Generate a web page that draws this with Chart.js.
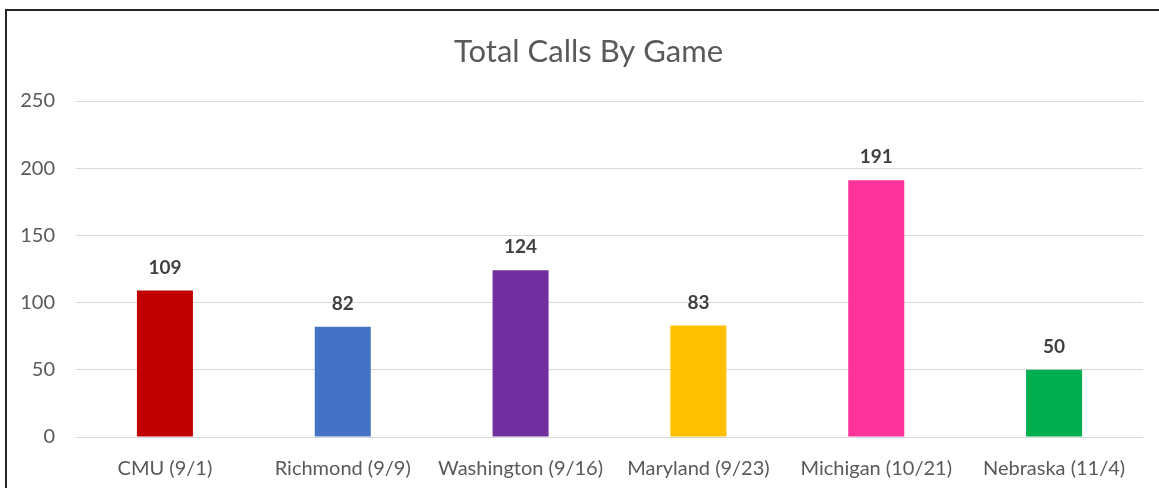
<!DOCTYPE html>
<html>
<head>
<meta charset="utf-8">
<script src="https://cdn.jsdelivr.net/npm/chart.js@4/dist/chart.umd.min.js"></script>
<style>
  html, body { margin: 0; padding: 0; background: #fff; overflow: hidden; }
  #wrap { position: relative; width: 1159px; height: 488px; overflow: hidden; }
  #frame { position: absolute; left: 5px; top: 9px; width: 1300px; height: 600px; border: 2px solid #262626; box-sizing: border-box; }
  #chartBox { position: absolute; left: 0; top: 0; width: 1159px; height: 501px; }
</style>
</head>
<body>
<div id="wrap">
  <div id="frame"></div>
  <div id="chartBox"><canvas id="chartCalls"></canvas></div>
</div>
<script>
// Total calls per game
const games  = ['CMU (9/1)', 'Richmond (9/9)', 'Washington (9/16)', 'Maryland (9/23)', 'Michigan (10/21)', 'Nebraska (11/4)'];
const calls  = [109, 82, 124, 83, 191, 50];
const colors = ['#C00000', '#4472C4', '#7030A0', '#FFC000', '#FF3399', '#00B050'];
const yTicks = [0, 50, 100, 150, 200, 250];
const chartTitle = 'Total Calls By Game';

const FONT = "Lato, 'Open Sans', sans-serif";

// title drawn by hand: excel centres it a bit right of the canvas middle
const titleText = {
  id: 'titleText',
  afterDraw(chart) {
    const { ctx } = chart;
    ctx.save();
    ctx.font = `31px ${FONT}`;
    ctx.fillStyle = '#595959';
    ctx.textAlign = 'center';
    ctx.textBaseline = 'middle';
    ctx.fillText(chartTitle, chart.width / 2 + 9, 52);
    ctx.restore();
  }
};

// draws the value above each bar
const valueLabels = {
  id: 'valueLabels',
  afterDatasetsDraw(chart) {
    const { ctx } = chart;
    const meta = chart.getDatasetMeta(0);
    ctx.save();
    ctx.font = `bold 19px ${FONT}`;
    ctx.fillStyle = '#404040';
    ctx.textAlign = 'center';
    ctx.textBaseline = 'middle';
    meta.data.forEach((bar, i) => {
      ctx.fillText(String(calls[i]), bar.x, bar.y - 23);
    });
    ctx.restore();
  }
};

new Chart(document.getElementById('chartCalls'), {
  type: 'bar',
  data: {
    labels: games,
    datasets: [{
      label: 'Total Calls',
      data: calls,
      backgroundColor: colors,
      borderWidth: 0,
      barPercentage: 0.315,
      categoryPercentage: 1
    }]
  },
  options: {
    responsive: true,
    maintainAspectRatio: false,
    animation: false,
    layout: { padding: { top: 101, right: 16, left: 0, bottom: 0 } },
    plugins: {
      legend: { display: false },
      tooltip: { enabled: false },
      title: { display: false }
    },
    scales: {
      x: {
        grid: { display: false, drawTicks: false },
        border: { display: false },
        ticks: { color: '#595959', font: { family: FONT, size: 20 }, padding: 20, maxRotation: 0 }
      },
      y: {
        min: 0,
        max: 250,
        afterFit(scale) { scale.width = 76; },
        afterBuildTicks(scale) { scale.ticks = yTicks.map(v => ({ value: v })); },
        grid: { color: '#D9D9D9', lineWidth: 1, drawTicks: false },
        border: { display: false },
        ticks: { color: '#595959', font: { family: FONT, size: 20 }, padding: 21 }
      }
    }
  },
  plugins: [valueLabels, titleText]
});
</script>
</body>
</html>
